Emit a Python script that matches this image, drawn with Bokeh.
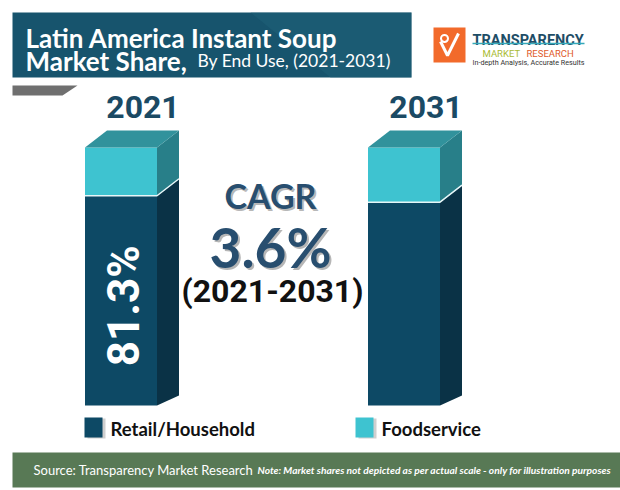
import numpy as np
from bokeh.plotting import figure
from bokeh.models import Range1d
from bokeh.core.properties import value
from bokeh.embed import file_html
from bokeh.resources import INLINE

# ---------------- data ----------------
years = ["2021", "2031"]
retail_household = [81.3, 78.8]
foodservice = [18.7, 21.2]
series_names = ["Retail/Household", "Foodservice"]
cagr_label = "CAGR"
cagr_value = "3.6%"
cagr_period = "(2021-2031)"
title_bold_1 = "Latin America Instant Soup"
title_bold_2 = "Market Share,"
title_rest = "By End Use, (2021-2031)"
source_text = "Source: Transparency Market Research"
note_text = "Note: Market shares not depicted as per actual scale - only for illustration purposes"
logo_name = "TRANSPARENCY"
logo_sub1 = "MARKET"
logo_sub2 = "RESEARCH"
logo_tag = "In-depth Analysis, Accurate Results"

# ---------------- layout ----------------
W, H = 620, 490
BASE_PY = 405          # pixel row of 0 %
K = 2.58               # pixels per percent


def Y(py):
    return (BASE_PY - py) / K


p = figure(width=W, height=H, x_range=Range1d(0, W), y_range=Range1d(Y(H), Y(0)),
           output_backend="svg", toolbar_location=None,
           x_axis_type=None, y_axis_type=None, min_border=0)
p.grid.visible = False
p.outline_line_color = None
p.background_fill_color = "white"
p.border_fill_color = "white"

# title box
p.quad(left=[12], right=[411], top=[Y(12)], bottom=[Y(77)], fill_color="#17546d", line_color=None)
p.patch([250, 411, 411, 330], [Y(12), Y(12), Y(77), Y(77)], fill_color="#1f6279", fill_alpha=0.5, line_color=None)
p.patch([12, 77, 62, 12], [Y(85), Y(85), Y(95), Y(95)], fill_color="#6f6f6f", line_color=None)

p.text(x=[25], y=[Y(37)], text=[title_bold_1], text_font=value("Lato"), text_font_style="bold",
       text_font_size="26px", text_color="white", text_baseline="alphabetic")
p.text(x=[25], y=[Y(60)], text=[title_bold_2], text_font=value("Lato"), text_font_style="bold",
       text_font_size="26px", text_color="white", text_baseline="alphabetic")
p.text(x=[197], y=[Y(60)], text=[title_rest], text_font=value("Lato"),
       text_font_size="17.5px", text_color="white", text_baseline="alphabetic")

# logo
p.quad(left=[433], right=[465], top=[Y(27)], bottom=[Y(62)], fill_color="#f26a2b", line_color=None)
p.multi_line(xs=[[440, 447, 458]], ys=[[Y(41), Y(55), Y(33)]], line_color="white", line_width=3)
p.scatter(x=[444], y=[Y(38)], size=7, marker="circle", fill_color=None, line_color="white", line_width=2)
p.text(x=[472], y=[Y(40)], text=[logo_name], text_font=value("Roboto"), text_font_style="bold",
       text_font_size="14.5px", text_color="#1e4d66", text_baseline="alphabetic")
p.line(x=[472, 584], y=[Y(43), Y(43)], line_color="#36a9b9", line_width=1.5)
p.text(x=[482], y=[Y(53)], text=[logo_sub1], text_font=value("Roboto"),
       text_font_size="9.5px", text_color="#a9bb32", text_baseline="alphabetic")
p.text(x=[526], y=[Y(53)], text=[logo_sub2], text_font=value("Roboto"),
       text_font_size="9.5px", text_color="#e05a2b", text_baseline="alphabetic")
p.text(x=[472], y=[Y(62)], text=[logo_tag], text_font=value("Roboto"),
       text_font_size="7.2px", text_color="#333333", text_baseline="alphabetic")

# ---------------- 3D bars ----------------
centers = [120.5, 403.5]
BW = 72
DX = 22
DY = 17 / K
DYB = 10 / K
totals = [r + f for r, f in zip(retail_household, foodservice)]

p.vbar(x=centers, width=BW, bottom=0, top=retail_household, fill_color="#0d4965", line_color=None)
p.vbar(x=centers, width=BW, bottom=retail_household, top=totals, fill_color="#3ec3d0", line_color=None)

side_dark_x, side_dark_y, side_cy_x, side_cy_y, top_x, top_y, sep_x, sep_y = [], [], [], [], [], [], [], []
for c, r, t in zip(centers, retail_household, totals):
    xl, xr = c - BW / 2, c + BW / 2
    side_dark_x.append([xr, xr + DX, xr + DX, xr])
    side_dark_y.append([0, DYB, r + DY, r])
    side_cy_x.append([xr, xr + DX, xr + DX, xr])
    side_cy_y.append([r, r + DY, t + DY, t])
    top_x.append([xl, xl + DX, xr + DX, xr])
    top_y.append([t, t + DY, t + DY, t])
    sep_x.append([xl, xr, xr + DX])
    sep_y.append([r, r, r + DY])

p.patches(side_dark_x, side_dark_y, fill_color="#0a3246", line_color=None)
p.patches(side_cy_x, side_cy_y, fill_color="#287f89", line_color=None)
p.patches(top_x, top_y, fill_color="#31929c", line_color=None)
p.multi_line(sep_x, sep_y, line_color="#e6f6f8", line_width=1.5)

# value label inside first bar
p.text(x=[centers[0] + 3], y=[retail_household[0] / 2 - 2], text=[f"{retail_household[0]}%"],
       angle=np.pi / 2, text_align="center", text_baseline="middle",
       text_font=value("Roboto"), text_font_style="bold", text_font_size="44px", text_color="white")

# year labels
p.text(x=[c + DX for c in centers], y=[Y(106)] * 2, text=years, text_align="center",
       text_baseline="middle", text_font=value("Roboto"), text_font_style="bold",
       text_font_size="32px", text_color="#1b4a64")

# CAGR block
for dx, dy, col, alpha in [(2, -2, "#7a7a7a", 0.55), (0, 0, "#284e6f", 1.0)]:
    p.text(x=[270 + dx], y=[Y(195) + dy / K], text=[cagr_label], text_align="center",
           text_baseline="middle", text_font=value("Lato"), text_font_style="bold",
           text_font_size="34px", text_color=col, text_alpha=alpha)
    p.text(x=[270 + dx], y=[Y(246) + dy / K], text=[cagr_value], text_align="center",
           text_baseline="middle", text_font=value("Lato"), text_font_style="bold",
           text_font_size="55px", text_color=col, text_alpha=alpha)
p.text(x=[272], y=[Y(290)], text=[cagr_period], text_align="center", text_baseline="middle",
       text_font=value("Roboto"), text_font_style="bold", text_font_size="32px", text_color="#111111")

# legend
leg_x = [93, 364]
leg_colors = ["#0d4965", "#3ec3d0"]
p.rect(x=[x + 3 for x in leg_x], y=[Y(428)] * 2, width=18, height=20, width_units="screen",
       height_units="screen", fill_color="#bbbbbb", fill_alpha=0.7, line_color=None)
p.rect(x=leg_x, y=[Y(427)] * 2, width=18, height=20, width_units="screen",
       height_units="screen", fill_color=leg_colors, line_color=None)
p.text(x=[x + 17 for x in leg_x], y=[Y(428)] * 2, text=series_names, text_baseline="middle",
       text_font=value("Lato"), text_font_style="bold", text_font_size="18.5px", text_color="#111111")

# footer
p.quad(left=[12], right=[620], top=[Y(452)], bottom=[Y(487)], fill_color="#587955", line_color=None)
p.text(x=[33], y=[Y(469)], text=[source_text], text_baseline="middle", text_font=value("Lato"),
       text_font_size="13px", text_color="white")
p.text(x=[257], y=[Y(469)], text=[note_text], text_baseline="middle", text_font=value("Lato"),
       text_font_style="bold italic", text_font_size="10.2px", text_color="white")

open("out.html", "w").write(file_html(p, INLINE))
